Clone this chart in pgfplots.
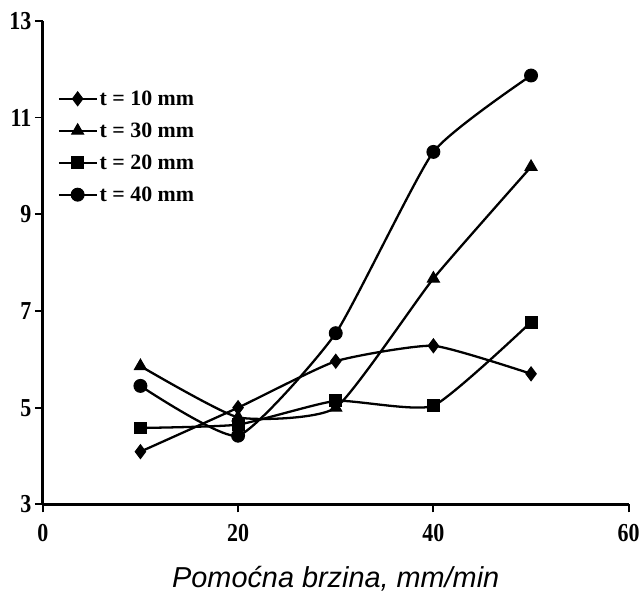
\documentclass[border=0pt]{standalone}
\usepackage{fontspec}
\setmainfont{Liberation Serif}
\newfontfamily\tickfont[FakeStretch=0.85]{Liberation Serif}
\newfontfamily\labelfont{Liberation Sans}
\usepackage{pgfplots}
\pgfplotsset{compat=1.18}
\begin{document}
\begin{tikzpicture}
\begin{axis}[
  scale only axis, width=589pt, height=486pt,
  xmin=0, xmax=60, ymin=3, ymax=13,
  xtick={0,20,40,60}, ytick={3,5,7,9,11,13},
  axis lines=left,
  axis line style={line width=2.6pt,-},
  tick align=outside,
  major tick length=8pt,
  every tick/.style={black,line width=1.8pt},
  /pgf/number format/assume math mode=true,
  tick label style={font=\tickfont\bfseries\fontsize{26}{26}\selectfont},
  xticklabel style={yshift=-9pt},
  xlabel={Pomoćna brzina, mm/min},
  xlabel style={font=\labelfont\itshape\fontsize{29}{29}\selectfont, yshift=-17pt},
  legend cell align=left,
  legend style={draw=none, fill=none, at={(0.025,0.86)}, anchor=north west,
    font=\bfseries\fontsize{22}{22}\selectfont, row sep=12pt, inner sep=0pt},
  legend image code/.code={\draw[mark repeat=2,mark phase=2] plot coordinates {(0pt,0pt)(19pt,0pt)(38pt,0pt)};},
]
\addplot[black, line width=2.3pt, smooth, tension=0.3, mark=diamond*, mark size=7pt, mark options={solid, fill=black, line width=1pt}] coordinates {(10,4.09) (20,5.00) (30,5.96) (40,6.28) (50,5.70)};
\addlegendentry{t = 10 mm}
\addplot[black, line width=2.3pt, smooth, tension=0.3, mark=triangle*, mark size=7pt, mark options={solid, fill=black, line width=1pt}] coordinates {(10,5.86) (20,4.80) (30,5.00) (40,7.67) (50,9.98)};
\addlegendentry{t = 30 mm}
\addplot[black, line width=2.3pt, smooth, tension=0.3, mark=square*, mark size=6pt, mark options={solid, fill=black, line width=1pt}] coordinates {(10,4.58) (20,4.65) (30,5.14) (40,5.04) (50,6.77)};
\addlegendentry{t = 20 mm}
\addplot[black, line width=2.3pt, smooth, tension=0.3, mark=*, mark size=6.5pt, mark options={solid, fill=black, line width=1pt}] coordinates {(10,5.45) (20,4.42) (30,6.54) (40,10.29) (50,11.87)};
\addlegendentry{t = 40 mm}
\end{axis}
\path (current axis.south west) ++(-43pt,-84pt) rectangle ++(643pt,591pt);
\end{tikzpicture}
\end{document}
